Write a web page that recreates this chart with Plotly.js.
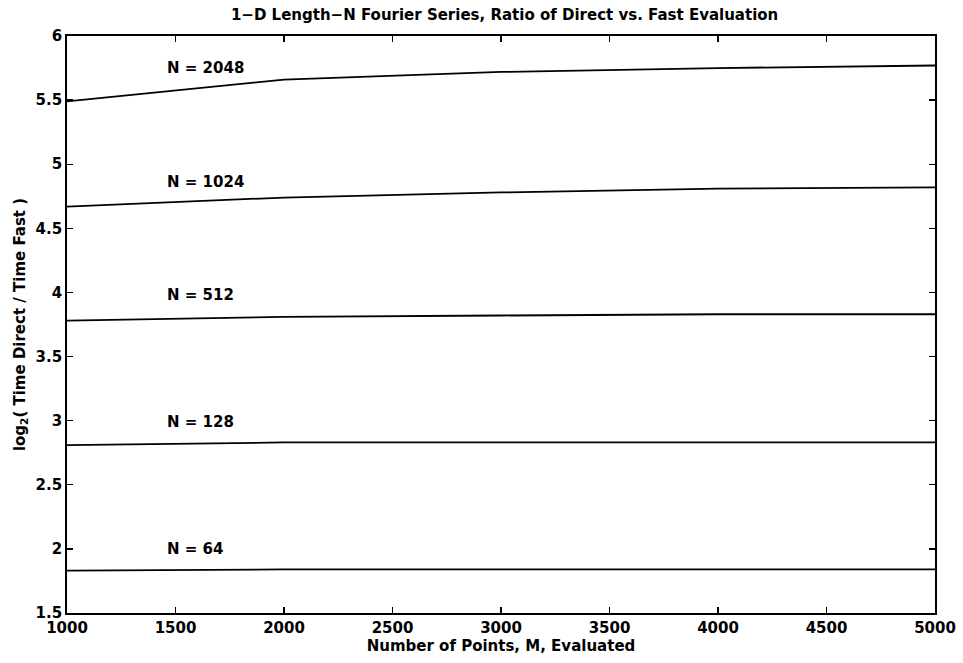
<!DOCTYPE html>
<html>
<head>
<meta charset="utf-8">
<script src="https://cdn.plot.ly/plotly-3.0.1.min.js"></script>
<style>html,body{margin:0;padding:0;background:#fff;}#chart{width:963px;height:663px;}</style>
</head>
<body>
<div id="chart"></div>
<script>
const M = [1000, 2000, 3000, 4000, 5000];
const seriesNames = ["N = 2048", "N = 1024", "N = 512", "N = 128", "N = 64"];
const n2048 = [5.49, 5.66, 5.72, 5.75, 5.77];
const n1024 = [4.67, 4.74, 4.78, 4.81, 4.82];
const n512 = [3.78, 3.81, 3.82, 3.83, 3.83];
const n128 = [2.81, 2.83, 2.83, 2.83, 2.83];
const n64 = [1.83, 1.84, 1.84, 1.84, 1.84];
const labelX = [1450, 1450, 1450, 1450, 1450];
const labelY = [5.75, 4.86, 3.98, 2.99, 2.0];
const xTicks = [1000, 1500, 2000, 2500, 3000, 3500, 4000, 4500, 5000];
const yTicks = [1.5, 2, 2.5, 3, 3.5, 4, 4.5, 5, 5.5, 6];

const allSeries = [n2048, n1024, n512, n128, n64];
const traces = allSeries.map((ys, i) => ({
  x: M, y: ys, type: 'scatter', mode: 'lines', name: seriesNames[i],
  line: {color: '#000', width: 1.8}, showlegend: false
}));

const FAM = 'DejaVu Sans, Arial, sans-serif';
const font = {family: FAM, size: 15, color: '#000', weight: 'bold'};
const annotations = seriesNames.map((t, i) => ({
  x: labelX[i], y: labelY[i], xref: 'x', yref: 'y', text: t,
  showarrow: false, xanchor: 'left', yanchor: 'middle',
  font: font
}));

const layout = {
  width: 963, height: 663,
  margin: {l: 67, r: 28, t: 36, b: 50},
  paper_bgcolor: '#fff', plot_bgcolor: '#fff',
  font: font,
  title: {text: '1\u2212D Length\u2212N Fourier Series, Ratio of Direct vs. Fast Evaluation',
          font: font,
          x: 0.524, xanchor: 'center', y: 0.977, yanchor: 'middle'},
  xaxis: {
    range: [1000, 5000], tickvals: xTicks, ticktext: xTicks.map(String),
    ticks: 'inside', ticklen: 6, tickwidth: 1.4, tickcolor: '#000',
    showline: true, linecolor: '#000', linewidth: 1.8, mirror: 'ticks',
    showgrid: false, zeroline: false,
    tickfont: font,
    title: {text: 'Number of Points, M, Evaluated', font: font, standoff: 0}
  },
  yaxis: {
    range: [1.5, 6], tickvals: yTicks, ticktext: yTicks.map(String),
    ticks: 'inside', ticklen: 6, tickwidth: 1.4, tickcolor: '#000',
    showline: true, linecolor: '#000', linewidth: 1.8, mirror: 'ticks',
    showgrid: false, zeroline: false,
    tickfont: font,
    title: {text: 'log<sub>2</sub>( Time Direct / Time Fast )', font: font, standoff: 6}
  },
  annotations: annotations
};

Plotly.newPlot('chart', traces, layout, {displayModeBar: false, staticPlot: true});
</script>
</body>
</html>
